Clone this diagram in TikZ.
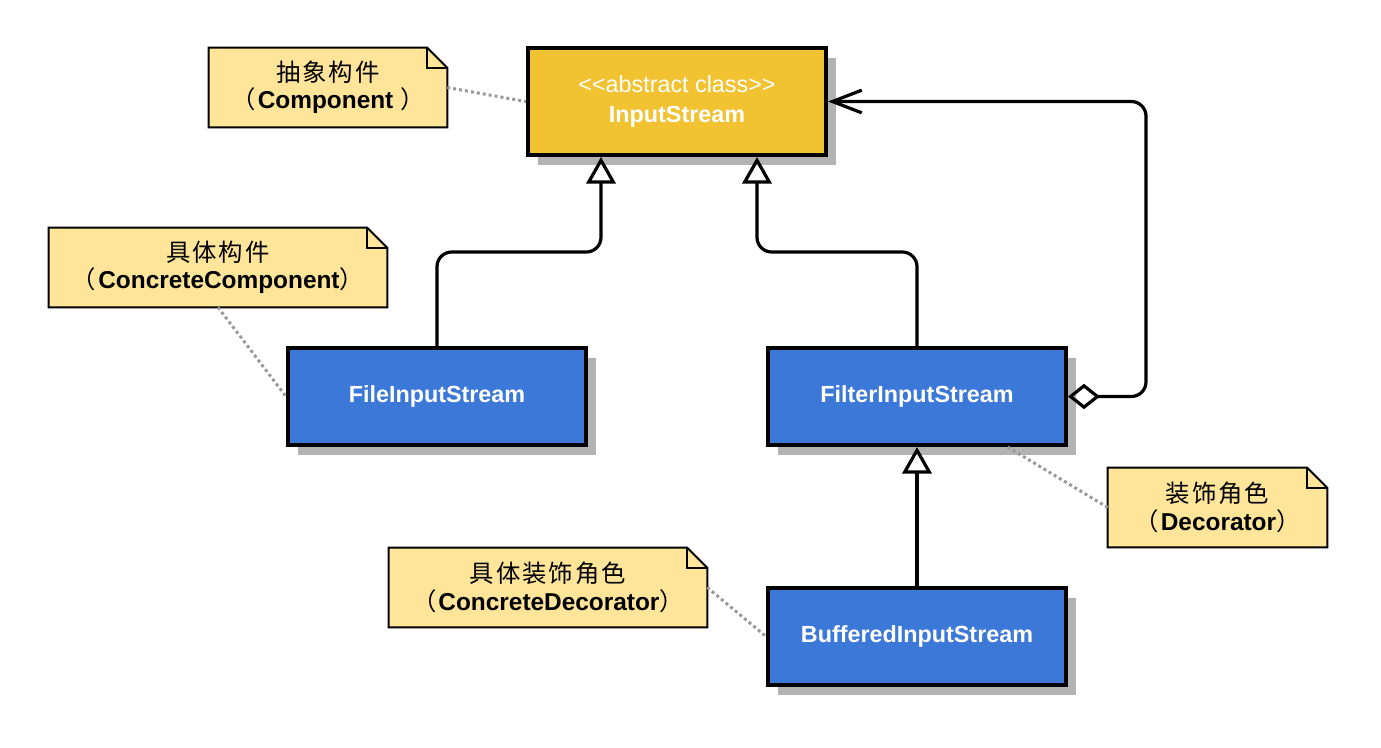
\documentclass[tikz,border=0pt]{standalone}
\usepackage{fontspec}
\setmainfont{Liberation Sans}[Ligatures=TeXOff]
\newfontfamily\cjk{Noto Sans CJK SC}[LetterSpace=8]
\usetikzlibrary{arrows.meta,shadows,backgrounds}

\definecolor{gold}{HTML}{F1C232}
\definecolor{cblue}{HTML}{3C78D8}
\definecolor{notey}{HTML}{FFE599}
\definecolor{shade}{HTML}{B3B3B3}
\definecolor{linkgray}{HTML}{999999}

\tikzset{
  cls/.style={draw=black, line width=3pt, text=white, align=center,
    font=\fontsize{17.5}{22}\selectfont\bfseries,
    minimum width=223.5pt, minimum height=72.75pt,
    drop shadow={shadow xshift=7.5pt, shadow yshift=-7.5pt, fill=shade, opacity=1}},
  note/.style={align=center, minimum height=59.25pt, inner sep=0pt,
    font=\fontsize{18.3}{20.5}\selectfont},
  gen/.style={line width=2.4pt, rounded corners=11pt,
    -{Triangle[open, length=20pt, width=22pt]}},
  agg/.style={line width=2.4pt, rounded corners=11pt,
    {Diamond[open, length=24pt, width=19pt]}-{Straight Barb[length=22pt, width=17pt]}},
  link/.style={linkgray, line width=2.25pt, dash pattern=on 2.25pt off 2.25pt}
}

\begin{document}
\begin{tikzpicture}[x=0.75pt,y=-0.75pt]
\useasboundingbox (0,0) rectangle (1381,747);

% classes
\node[cls, fill=gold, minimum height=80.25pt] (is) at (677,101.5) {{\mdseries <<abstract class>>}\\InputStream};
\node[cls, fill=cblue] (fis) at (437,396.5) {FileInputStream};
\node[cls, fill=cblue] (flt) at (917,396.5) {FilterInputStream};
\node[cls, fill=cblue] (bis) at (917,636.5) {BufferedInputStream};

% notes
\node[note, minimum width=178.5pt] (nabs) at (328,87.5) {{\cjk 抽象构件}\\{\cjk （}\textbf{Component }{\cjk ）}};
\node[note, minimum width=253.5pt] (ncc) at (218,267.5) {{\cjk 具体构件}\\{\cjk （}\textbf{ConcreteComponent}{\cjk ）}};
\node[note, minimum width=164.25pt] (ndec) at (1217.5,507.5) {{\cjk 装饰角色}\\{\cjk （}\textbf{Decorator}{\cjk ）}};
\node[note, minimum width=238.5pt] (ncd) at (548,587.5) {{\cjk 具体装饰角色}\\{\cjk （}\textbf{ConcreteDecorator}{\cjk ）}};

\begin{scope}[on background layer]
\foreach \n in {nabs,ncc,ndec,ncd}{
  \draw[line width=1.5pt, fill=notey] (\n.north west) -- ([xshift=-15pt]\n.north east)
    -- ([yshift=-15pt]\n.north east) -- (\n.south east) -- (\n.south west) -- cycle;
  \draw[line width=1.5pt] ([xshift=-15pt]\n.north east) |- ([yshift=-15pt]\n.north east);
}
\end{scope}

% note links
\draw[link] (nabs.east) -- (is.west);
\draw[link] (ncc.south) -- (fis.west);
\draw[link] (ndec.west) -- ([xshift=68pt]flt.south);
\draw[link] (ncd.east) -- (bis.west);

% relations
\draw[gen] (fis.north) |- (601,252) -- ([xshift=-57pt]is.south);
\draw[gen] (flt.north) |- (757,252) -- ([xshift=60pt]is.south);
\draw[gen] (bis.north) -- (flt.south);
\draw[agg] (flt.east) -| (1146,101.5) -- (is.east);

\end{tikzpicture}
\end{document}
